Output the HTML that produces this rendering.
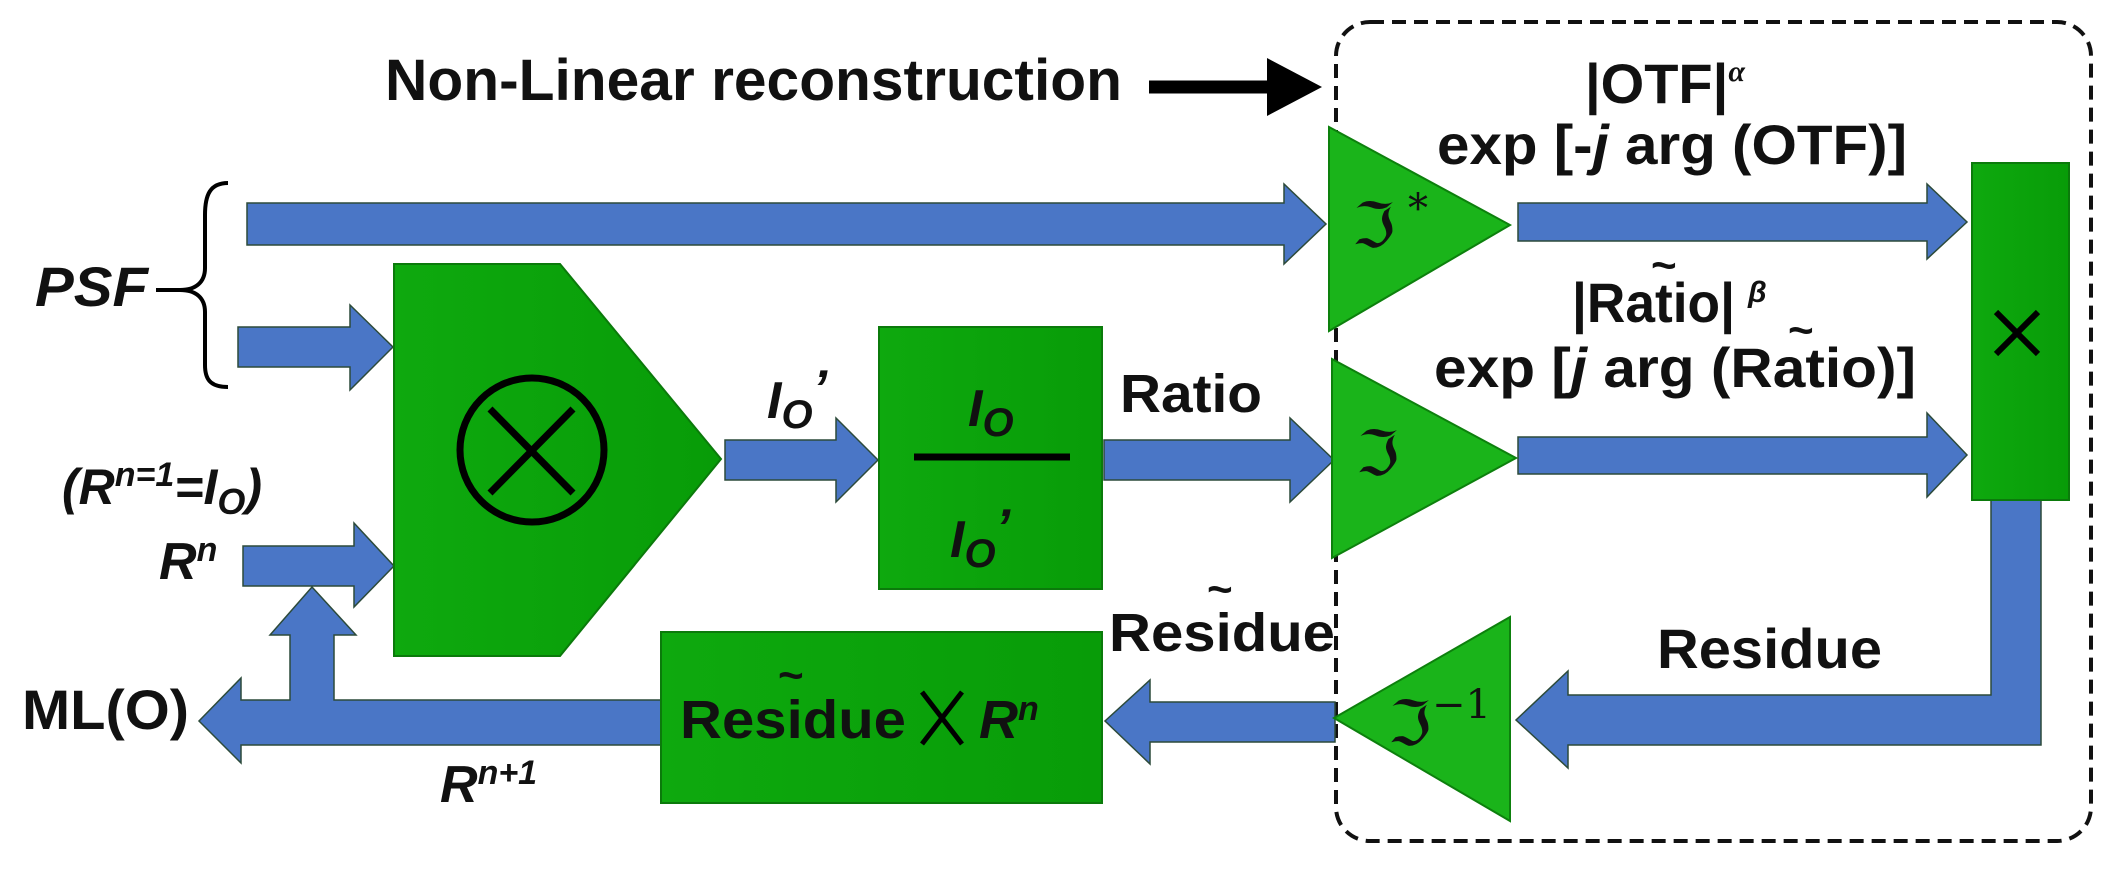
<!DOCTYPE html>
<html><head><meta charset="utf-8"><style>
html,body{margin:0;padding:0;background:#fff;}
svg{display:block;}
text{font-family:"Liberation Sans",Arial,sans-serif;font-weight:bold;fill:#111;}
.it{font-style:italic;}
.fr{font-family:"DejaVu Serif","Liberation Serif",serif;font-weight:normal;}
</style></head><body>
<svg width="2104" height="873" viewBox="0 0 2104 873" xmlns="http://www.w3.org/2000/svg">
<defs>
<linearGradient id="g1" x1="0" y1="0" x2="1" y2="0"><stop offset="0" stop-color="#0ea90e"/><stop offset="1" stop-color="#089c08"/></linearGradient>
</defs>
<!-- dashed box -->
<rect x="1336" y="22" width="755" height="819" rx="34" fill="none" stroke="#111" stroke-width="4" stroke-dasharray="14,8"/>
<!-- title -->
<text x="385" y="100" font-size="58" textLength="737" lengthAdjust="spacingAndGlyphs">Non-Linear reconstruction</text>
<line x1="1149" y1="87" x2="1272" y2="87" stroke="#000" stroke-width="13"/>
<polygon points="1267,58 1322,87 1267,116" fill="#000"/>

<!-- blue arrows -->
<g fill="#4a76c6" stroke="#2c4a3a" stroke-width="1.5">
<polygon points="247,203 1284,203 1284,184 1326,224 1284,264 1284,245 247,245"/>
<polygon points="238,327 350,327 350,305 393,347 350,390 350,367 238,367"/>
<polygon points="243,546 354,546 354,523 394,566 354,607 354,586 243,586"/>
<polygon points="725,440 836,440 836,418 878,460 836,502 836,480 725,480"/>
<polygon points="1104,440 1290,440 1290,418 1334,460 1290,502 1290,480 1104,480"/>
<polygon points="1518,203 1927,203 1927,184 1967,222 1927,259 1927,241 1518,241"/>
<polygon points="1518,437 1927,437 1927,413 1967,455 1927,497 1927,474 1518,474"/>
<polygon points="2041,500 2041,745 1568,745 1568,768 1516,720 1568,671 1568,695 1991,695 1991,500"/>
<polygon points="1335,702 1150,702 1150,680 1105,721 1150,764 1150,742 1335,742"/>
<polygon points="661,700 334,700 334,635 356,635 312,587 270,635 290,635 290,700 241,700 241,678 199,721 241,763 241,745 661,745"/>
</g>

<!-- green blocks -->
<g fill="url(#g1)" stroke="#0b7a0b" stroke-width="2">
<polygon points="394,264 560,264 721,459 560,656 394,656"/>
<rect x="879" y="327" width="223" height="262"/>
<rect x="661" y="632" width="441" height="171"/>
<rect x="1972" y="163" width="97" height="337"/>
</g>
<g fill="#1ab41a" stroke="#0d800d" stroke-width="2">
<polygon points="1329,127 1510,225 1329,331"/>
<polygon points="1332,359 1516,458 1332,558"/>
<polygon points="1510,617 1334,718 1510,821"/>
</g>

<!-- circle-x -->
<circle cx="532" cy="450" r="72" fill="none" stroke="#000" stroke-width="7"/>
<line x1="490" y1="409" x2="573" y2="493" stroke="#000" stroke-width="7"/>
<line x1="573" y1="409" x2="490" y2="493" stroke="#000" stroke-width="7"/>
<!-- fraction -->
<line x1="914" y1="457" x2="1070" y2="457" stroke="#000" stroke-width="7"/>
<text x="968" y="426" font-size="52" class="it">I<tspan font-size="40" dy="10">O</tspan></text>
<text x="950" y="557" font-size="52" class="it">I<tspan font-size="40" dy="10">O</tspan><tspan dy="-22">’</tspan></text>
<!-- big x in right box -->
<line x1="1996" y1="312" x2="2038" y2="354" stroke="#000" stroke-width="6"/>
<line x1="2038" y1="312" x2="1996" y2="354" stroke="#000" stroke-width="6"/>

<!-- brace -->
<path d="M228,183 C210,183 205,195 205,215 L205,268 C205,282 196,290 180,290 L156,290 M180,290 C196,290 205,298 205,312 L205,365 C205,379 210,387 228,387" fill="none" stroke="#000" stroke-width="4"/>

<!-- labels -->
<text x="35" y="306" font-size="56" class="it" textLength="113" lengthAdjust="spacingAndGlyphs">PSF</text>
<text x="62" y="504" font-size="50" class="it">(R<tspan font-size="34" dy="-18">n=1</tspan><tspan dy="18">=I</tspan><tspan font-size="36" dy="10">O</tspan><tspan dy="-10">)</tspan></text>
<text x="159" y="579" font-size="52" class="it">R<tspan font-size="34" dy="-18">n</tspan></text>
<text x="22" y="729" font-size="56" textLength="167" lengthAdjust="spacingAndGlyphs">ML(O)</text>
<text x="440" y="802" font-size="52" class="it">R<tspan font-size="34" dy="-18">n+1</tspan></text>
<text x="767" y="418" font-size="52" class="it">I<tspan font-size="40" dy="10">O</tspan><tspan dy="-22">’</tspan></text>
<text x="1120" y="412" font-size="54" textLength="142" lengthAdjust="spacingAndGlyphs">Ratio</text>
<text x="1109" y="651" font-size="54" textLength="226" lengthAdjust="spacingAndGlyphs">Residue</text>
<text x="1207" y="604" font-size="44">~</text>
<text x="680" y="738" font-size="54" textLength="226" lengthAdjust="spacingAndGlyphs">Residue</text>
<text x="778" y="690" font-size="44">~</text>
<line x1="922" y1="692" x2="962" y2="744" stroke="#000" stroke-width="5"/>
<line x1="962" y1="692" x2="922" y2="744" stroke="#000" stroke-width="5"/>
<text x="979" y="738" font-size="54" class="it">R<tspan font-size="34" dy="-18">n</tspan></text>

<text x="1585" y="103" font-size="56">|OTF|<tspan font-size="30" class="it" font-family="Liberation Serif" dy="-22">α</tspan></text>
<text x="1437" y="164" font-size="56" textLength="470" lengthAdjust="spacingAndGlyphs">exp [-<tspan class="it">j</tspan> arg (OTF)]</text>
<text x="1572" y="322" font-size="56" textLength="163" lengthAdjust="spacingAndGlyphs">|Ratio|</text>
<text x="1748" y="302" font-size="30" class="it" font-family="Liberation Serif">β</text>
<text x="1651" y="280" font-size="44">~</text>
<text x="1434" y="387" font-size="56" textLength="482" lengthAdjust="spacingAndGlyphs">exp [<tspan class="it">j</tspan> arg (Ratio)]</text>
<text x="1788" y="345" font-size="44">~</text>
<text x="1657" y="668" font-size="56" textLength="225" lengthAdjust="spacingAndGlyphs">Residue</text>

<text x="1352" y="247" font-size="62" class="fr">ℑ</text>
<text x="1408" y="222" font-size="40" class="fr">*</text>
<text x="1356" y="475" font-size="62" class="fr">ℑ</text>
<text x="1388" y="745" font-size="62" class="fr">ℑ</text>
<text x="1432" y="718" font-size="40" class="fr">−1</text>
</svg>
</body></html>
